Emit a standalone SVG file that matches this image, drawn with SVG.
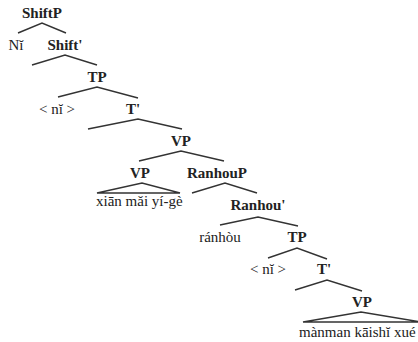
<svg xmlns="http://www.w3.org/2000/svg" width="418" height="342" viewBox="0 0 418 342" font-family="Liberation Serif, DejaVu Serif, serif">
<style>
text{font-family:'Liberation Serif','DejaVu Serif',serif;font-size:15px;fill:#222}
.b{font-weight:bold;text-anchor:middle}
.r{text-anchor:middle}
.l{text-anchor:start}
.e{fill:none;stroke:#333;stroke-width:1.4;stroke-linejoin:miter}
</style>
<rect width="418" height="342" fill="#fff"/>
<g id="connectors">
<polyline class="e" points="18,33 42,23 66,33"/>
<polyline class="e" points="32,65 65,55 97,65"/>
<polyline class="e" points="58,97 97,87 138,98"/>
<polyline class="e" points="88,129 138,119 182,129"/>
<polyline class="e" points="139,161 181,151 224,161"/>
<polygon class="e" points="97,193 142,183 180,193"/>
<polyline class="e" points="192,193 225,183 257,193"/>
<polyline class="e" points="220,225 258,217 298,226"/>
<polyline class="e" points="268,258 297,248 327,259"/>
<polyline class="e" points="295,290 327,280 362,291"/>
<polygon class="e" points="303,322 361,312 421,322"/>
</g>
<g id="n-shiftp"><text class="b" x="42" y="18">ShiftP</text></g>
<g id="n-ni"><text class="r" x="16" y="50">Nĭ</text></g>
<g id="n-shiftbar"><text class="b" x="65" y="50">Shift'</text></g>
<g id="n-tp1"><text class="b" x="97" y="82">TP</text></g>
<g id="n-trace1"><text class="r" x="57" y="114">&lt; nĭ &gt;</text></g>
<g id="n-tbar1"><text class="b" x="133" y="114">T'</text></g>
<g id="n-vp1"><text class="b" x="181" y="146">VP</text></g>
<g id="n-vp2"><text class="b" x="140" y="178">VP</text></g>
<g id="n-xian"><text class="l" x="96" y="206">xiān mǎi yí-gè</text></g>
<g id="n-ranhoup"><text class="b" x="217" y="178">RanhouP</text></g>
<g id="n-ranhoubar"><text class="b" x="258" y="210">Ranhou'</text></g>
<g id="n-ranhou"><text class="r" x="220" y="242">ránhòu</text></g>
<g id="n-tp2"><text class="b" x="297" y="242">TP</text></g>
<g id="n-trace2"><text class="r" x="268" y="274">&lt; nĭ &gt;</text></g>
<g id="n-tbar2"><text class="b" x="324" y="274">T'</text></g>
<g id="n-vp3"><text class="b" x="362" y="307">VP</text></g>
<g id="n-manman"><text class="l" x="299" y="337">mànman kāishĭ xué</text></g>
</svg>
